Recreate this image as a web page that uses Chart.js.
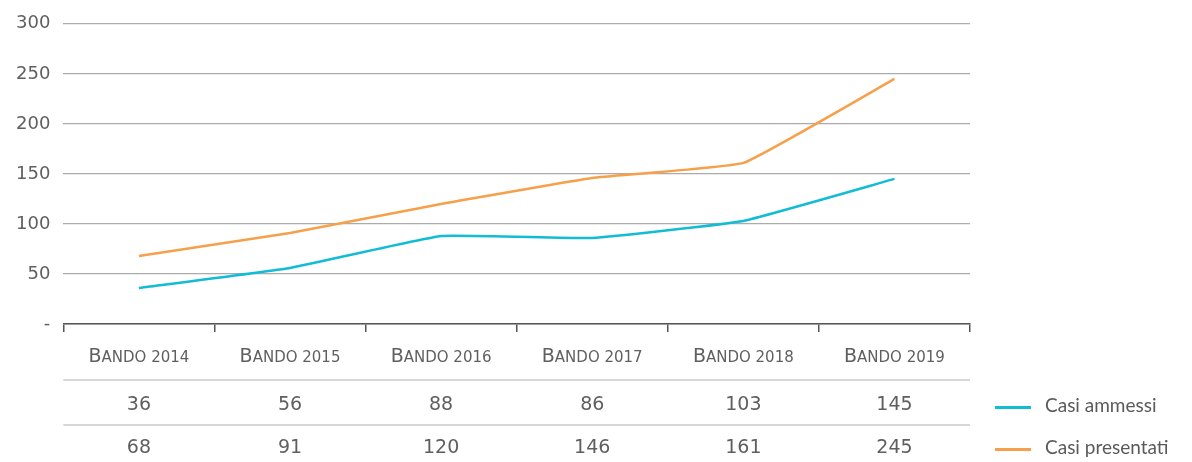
<!DOCTYPE html>
<html>
<head>
<meta charset="utf-8">
<script src="https://cdn.jsdelivr.net/npm/chart.js@4"></script>
<style>
  body { margin: 0; background: #fff; }
  #wrap { position: relative; width: 1192px; height: 462px; }
  .legend { position: absolute; left: 995px; font-family: Lato, "Open Sans", sans-serif; font-size: 19px; color: #5a5a5a; }
  .legend span.line { display: inline-block; width: 36px; height: 3px; vertical-align: middle; margin-right: 14px; }
</style>
</head>
<body>
<div id="wrap">
  <canvas id="chart" width="1192" height="462"></canvas>
  <div class="legend" style="top:393px"><span class="line" style="background:#12bcd4"></span>Casi ammessi</div>
  <div class="legend" style="top:435px"><span class="line" style="background:#f7a04b"></span>Casi presentati</div>
</div>
<script>
// dati
const categorie = ["Bando 2014", "Bando 2015", "Bando 2016", "Bando 2017", "Bando 2018", "Bando 2019"];
const casiAmmessi = [36, 56, 88, 86, 103, 145];
const casiPresentati = [68, 91, 120, 146, 161, 245];
const yTicks = [0, 50, 100, 150, 200, 250, 300];

const TEXT = "#5f5f5f";
const FONT = "'DejaVu Sans', sans-serif";

//-----------------------------------------------------
// etichette in maiuscoletto + tabella dati sotto l'asse
//-----------------------------------------------------
function drawSmallCaps(ctx, text, cx, y) {
  const big = "19px " + FONT;
  const small = "15px " + FONT;
  const parts = [];
  for (const ch of text) {
    const isLower = ch !== ch.toUpperCase();
    const isDigit = /[0-9]/.test(ch);
    parts.push({ t: ch.toUpperCase(), f: (isLower || isDigit || ch === " ") ? small : big });
  }
  let w = 0;
  parts.forEach((p) => { ctx.font = p.f; p.w = ctx.measureText(p.t).width; w += p.w; });
  let x = cx - w / 2;
  ctx.textAlign = "left";
  ctx.textBaseline = "alphabetic";
  parts.forEach((p) => { ctx.font = p.f; ctx.fillText(p.t, x, y); x += p.w; });
}

const tablePlugin = {
  id: "dataTable",
  afterDraw(chart) {
    const { ctx, chartArea, scales } = chart;
    const x = scales.x;
    ctx.save();
    ctx.fillStyle = TEXT;
    categorie.forEach((c, i) => {
      drawSmallCaps(ctx, c, x.getPixelForValue(i), 362);
    });
    ctx.strokeStyle = "#c8c8c8";
    ctx.lineWidth = 1.5;
    [380, 425].forEach((y) => {
      ctx.beginPath();
      ctx.moveTo(chartArea.left, y);
      ctx.lineTo(chartArea.right, y);
      ctx.stroke();
    });
    ctx.font = "19px " + FONT;
    ctx.textAlign = "center";
    ctx.textBaseline = "middle";
    categorie.forEach((c, i) => {
      const px = x.getPixelForValue(i);
      ctx.fillText(String(casiAmmessi[i]), px, 405);
      ctx.fillText(String(casiPresentati[i]), px, 448);
    });
    ctx.restore();
  }
};

new Chart(document.getElementById("chart"), {
  type: "line",
  data: {
    labels: categorie,
    datasets: [
      {
        label: "Casi ammessi",
        data: casiAmmessi,
        borderColor: "#12bcd4",
        borderWidth: 2.5,
        pointRadius: 0,
        tension: 0.1
      },
      {
        label: "Casi presentati",
        data: casiPresentati,
        borderColor: "#f7a04b",
        borderWidth: 2.5,
        pointRadius: 0,
        tension: 0.1
      }
    ]
  },
  options: {
    responsive: false,
    animation: false,
    layout: { padding: { left: 3, right: 222, top: 16, bottom: 130 } },
    plugins: {
      legend: { display: false },
      tooltip: { enabled: false }
    },
    scales: {
      x: {
        offset: true,
        grid: {
          display: true,
          offset: true,
          drawOnChartArea: false,
          tickLength: 8,
          color: "#555",
          lineWidth: 1.5
        },
        border: { display: true, color: "#555", width: 1.5 },
        ticks: { display: false }
      },
      y: {
        min: 0,
        max: 300,
        afterBuildTicks: (axis) => { axis.ticks = yTicks.map((v) => ({ value: v })); },
        grid: { color: "#ababab", lineWidth: 1.2, drawTicks: false },
        border: { display: false },
        ticks: {
          color: TEXT,
          padding: 13,
          font: { family: FONT, size: 18 },
          callback: (v) => (v === 0 ? "-" : v)
        }
      }
    }
  },
  plugins: [tablePlugin]
});
</script>
</body>
</html>
